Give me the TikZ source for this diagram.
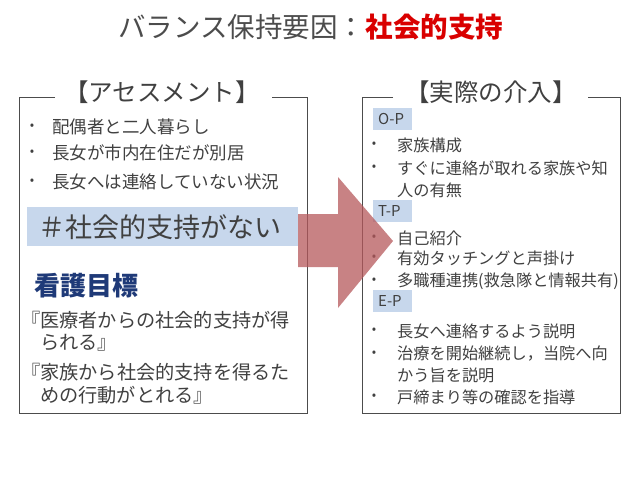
\documentclass[tikz,border=0pt]{standalone}
\usepackage{fontspec}
\setmainfont{Noto Sans CJK JP}
\begin{document}
\begin{tikzpicture}[x=1pt,y=-1pt,
  txt/.style={anchor=west,inner sep=0pt,text=black!75,font=\fontsize{16.2}{18}\selectfont},
  ltxt/.style={txt,font=\fontsize{17.5}{19}\selectfont},
  gtxt/.style={txt,font=\fontsize{19.2}{21}\selectfont},
  bul/.style={inner sep=0pt,text=black!75,font=\fontsize{13}{15}\selectfont},
  frame/.style={draw=black!70,line width=0.8pt},
  head/.style={inner sep=0pt,text=black!75,font=\fontsize{24.5}{27}\selectfont}]
\useasboundingbox (0,0) rectangle (638,479);
\definecolor{bandc}{HTML}{C7D7EC}
\definecolor{arrc}{HTML}{B5585B}
\definecolor{navy}{HTML}{1F3A78}
% title
\node[inner sep=0pt,anchor=west,font=\fontsize{27.5}{30}\selectfont,text=black!70] (t1) at (118,27) {バランス保持要因：};
\node[inner sep=0pt,anchor=west,font=\fontsize{27.5}{30}\selectfont\bfseries,text=red!85!black] (t2) at (t1.east) {社会的支持};
% left frame
\draw[frame] (55,97) -- (19,97) -- (19,413) -- (307,413) -- (307,97) -- (272,97);
\node[head] (lh) at (162,92) {【アセスメント】};
\foreach \y/\t [count=\i] in {127/配偶者と二人暮らし,153/長女が市内在住だが別居,182/長女へは連絡していない状況}{
  \node[bul] (lb\i) at (32,\y) {•};
  \node[ltxt] (lt\i) at (52,\y) {\t};
}
\fill[bandc] (27,207) rectangle (298,246);
\node[txt,font=\fontsize{27}{30}\selectfont] (hash) at (38,227) {＃社会的支持がない};
\node[txt,font=\fontsize{26}{28}\selectfont\bfseries,text=navy] (goal) at (34,286) {看護目標};
\node[gtxt] (g1) at (21,320) {『医療者からの社会的支持が得};
\node[gtxt] (g2) at (40,343) {られる』};
\node[gtxt] (g3) at (21,372) {『家族から社会的支持を得るた};
\node[gtxt] (g4) at (40,395) {めの行動がとれる』};
% right frame
\draw[frame] (393,97) -- (362,97) -- (362,413) -- (620,413) -- (620,97) -- (588,97);
\node[head] (rh) at (491,92) {【実際の介入】};
\foreach \y/\t/\n in {119/O-P/op,211/T-P/tp,301/E-P/ep}{
  \fill[bandc] (373,\y-11) rectangle (412,\y+11);
  \node[txt,font=\fontsize{15}{17}\selectfont] (\n) at (378,\y) {\t};
}
\foreach \y/\t [count=\i] in {145/家族構成,168/すぐに連絡が取れる家族や知,238/自己紹介,258/有効タッチングと声掛け,281/多職種連携(救急隊と情報共有),331/長女へ連絡するよう説明,354/治療を開始継続し，当院へ向,397/戸締まり等の確認を指導}{
  \node[bul] (rb\i) at (374,\y) {•};
  \node[txt] (rt\i) at (397,\y) {\t};
}
\node[txt] (rc1) at (397,190) {人の有無};
\node[txt] (rc2) at (397,375) {かう旨を説明};
% arrow
\fill[arrc,opacity=0.75] (298,214) -- (338,214) -- (338,177) -- (393,241) -- (338,308) -- (338,267) -- (298,267) -- cycle;
\end{tikzpicture}
\end{document}
